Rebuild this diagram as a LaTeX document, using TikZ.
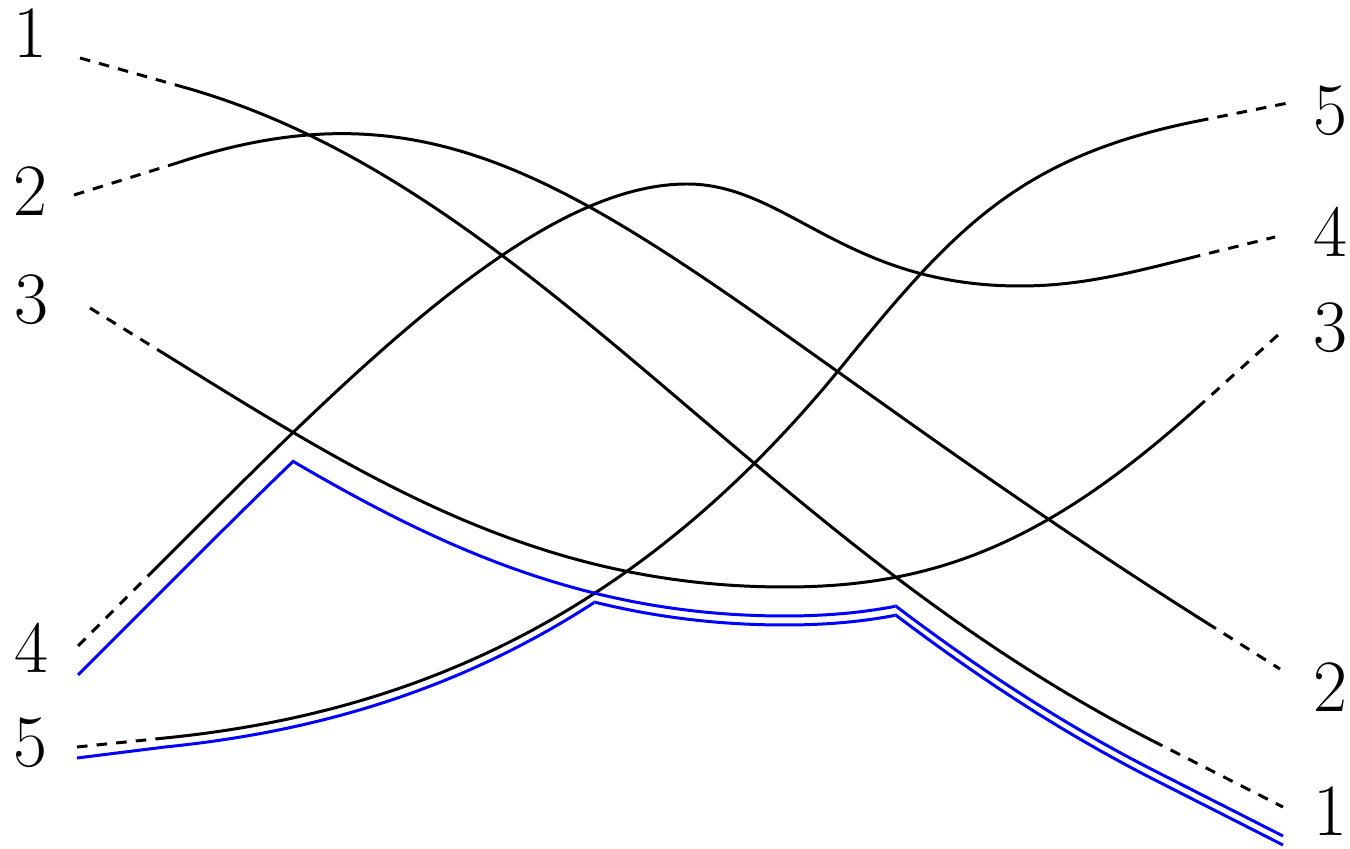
\documentclass[tikz,border=0pt]{standalone}
\usetikzlibrary{intersections}
\tikzset{
  curve/.style={line width=0.85pt, black},
  ext/.style={line width=0.85pt, black, dash pattern=on 3pt off 2.6pt},
  bluecurve/.style={line width=0.85pt, blue},
  lab/.style={inner sep=0pt, font=\fontsize{21}{25}\selectfont},
}
\def\crvA{(183,87) .. controls (533,185) and (753,537) .. (1153,741)}
\def\crvB{(177,163) .. controls (517,50) and (657,276) .. (1207,623)}
\def\crvC{(163,353) .. controls (363,477) and (535,587) .. (785,587) .. controls (935,587) and (1047,543) .. (1197,408)}
\def\crvD{(155,569) .. controls (355,369) and (537,184) .. (687,184) .. controls (787,184) and (845,286) .. (1020,286) .. controls (1080,286) and (1130,273) .. (1190,258)}
\def\crvE{(165,738) .. controls (415,713) and (640,615) .. (843,365) .. controls (953,230) and (1018,157) .. (1198,121)}
\begin{document}
\begin{tikzpicture}[x=0.01cm,y=-0.01cm]
\useasboundingbox (0,0) rectangle (1350,849);
% labels
\node[lab] (l1) at (30,33) {1};
\node[lab] (l2) at (30,191) {2};
\node[lab] (l3) at (31,300) {3};
\node[lab] (l4) at (31,648) {4};
\node[lab] (l5) at (30,743) {5};
\node[lab] (r5) at (1330,111) {5};
\node[lab] (r4) at (1330,232) {4};
\node[lab] (r3) at (1330,328) {3};
\node[lab] (r2) at (1330,687) {2};
\node[lab] (r1) at (1330,811) {1};
% end points
\coordinate (a0) at (80,58);   \coordinate (a1) at (183,87);  \coordinate (a2) at (1153,741); \coordinate (a3) at (1283,807);
\coordinate (b0) at (74,195);  \coordinate (b1) at (177,163); \coordinate (b2) at (1207,623); \coordinate (b3) at (1280,669);
\coordinate (c0) at (90,308);  \coordinate (c1) at (163,353); \coordinate (c2) at (1197,408); \coordinate (c3) at (1278,335);
\coordinate (d0) at (78,646);  \coordinate (d1) at (155,569); \coordinate (d2) at (1190,258); \coordinate (d3) at (1275,237);
\coordinate (e0) at (77,747);  \coordinate (e1) at (165,738); \coordinate (e2) at (1198,121); \coordinate (e3) at (1288,103);
\coordinate (top) at (0,-100); \coordinate (bot) at (0,1000);
\coordinate (lft) at (-10,0);  \coordinate (rgt) at (1400,0);
% black strands
\draw[ext] (a0) -- (a1); \draw[curve, name path global=pA] \crvA; \draw[ext] (a2) -- (a3);
\draw[ext] (b0) -- (b1); \draw[curve, name path global=pB] \crvB; \draw[ext] (b2) -- (b3);
\draw[ext] (c0) -- (c1); \draw[curve, name path global=pC] \crvC; \draw[ext] (c2) -- (c3);
\draw[ext] (d0) -- (d1); \draw[curve, name path global=pD] \crvD; \draw[ext] (d2) -- (d3);
\draw[ext] (e0) -- (e1); \draw[curve, name path global=pE] \crvE; \draw[ext] (e2) -- (e3);
\begin{scope}[shift={(0,29)}]
  \path[name path global=pCs] \crvC;
\end{scope}
\path[name intersections={of=pD and pC, by=xDC}];
\path[name intersections={of=pC and pA, by=xCA}];
\path[name intersections={of=pE and pCs, by=xEC}];
% blue upper
\begin{scope}[shift={(0,29)}]
  \begin{scope}
    \clip (lft |- top) rectangle (xDC |- bot);
    \draw[bluecurve] (78,646) -- (155,569) \crvD;
  \end{scope}
  \begin{scope}
    \clip (xDC |- top) rectangle (xCA |- bot);
    \draw[bluecurve] \crvC;
  \end{scope}
  \begin{scope}
    \clip (xCA |- top) rectangle (rgt |- bot);
    \draw[bluecurve] \crvA -- (1283,807);
  \end{scope}
\end{scope}
% blue lower
\begin{scope}[shift={(0,9)}]
  \clip (lft |- top) rectangle (xEC |- bot);
  \draw[bluecurve] (77,749) -- (165,738) \crvE;
\end{scope}
\begin{scope}[shift={(0,38)}]
  \begin{scope}
    \clip (xEC |- top) rectangle (xCA |- bot);
    \draw[bluecurve] \crvC;
  \end{scope}
  \begin{scope}
    \clip (xCA |- top) rectangle (rgt |- bot);
    \draw[bluecurve] \crvA -- (1283,807);
  \end{scope}
\end{scope}
\end{tikzpicture}
\end{document}
